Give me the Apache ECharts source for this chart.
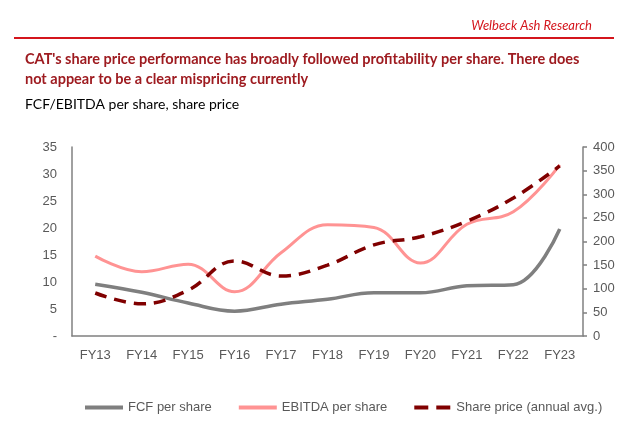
<!DOCTYPE html>
<html>
<head>
<meta charset="utf-8">
<script src="https://cdn.jsdelivr.net/npm/echarts@6/dist/echarts.min.js"></script>
<style>
html,body{margin:0;padding:0;background:#fff;}
#chart{width:640px;height:431px;}
</style>
</head>
<body>
<div id="chart"></div>
<script>
var categories = ['FY13','FY14','FY15','FY16','FY17','FY18','FY19','FY20','FY21','FY22','FY23'];
var fcfPerShare = [9.6, 8.1, 6.1, 4.6, 5.9, 6.8, 8.0, 8.0, 9.3, 9.5, 19.8];
var ebitdaPerShare = [14.8, 11.9, 13.3, 8.2, 15.4, 20.6, 20.1, 13.5, 20.7, 23.0, 31.7];
var sharePrice = [91, 68, 97, 159, 127, 150, 193, 210, 243, 292, 360];
var leftTicks = {min: 0, max: 35, interval: 5};
var rightTicks = {min: 0, max: 400, interval: 50};

var chart = echarts.init(document.getElementById('chart'), null, {renderer: 'canvas'});
var labelColor = '#595959';
var axisColor = '#808080';
chart.setOption({
  animation: false,
  backgroundColor: '#fff',
  title: [
    {text: 'Welbeck Ash Research', right: 43, top: 14,
     textStyle: {fontFamily: 'Lato', fontStyle: 'italic', fontWeight: 'normal', fontSize: 13, color: '#D4151C'}},
    {text: "CAT's share price performance has broadly followed profitability per share. There does\nnot appear to be a clear mispricing currently",
     left: 20, top: 44,
     textStyle: {fontFamily: 'Lato', fontWeight: 'bold', fontSize: 14.5, lineHeight: 20, color: '#9E1B20'}},
    {text: 'FCF/EBITDA per share, share price', left: 20, top: 92,
     textStyle: {fontFamily: 'Lato', fontWeight: 'normal', fontSize: 14, color: '#000'}}
  ],
  graphic: [
    {type: 'line', shape: {x1: 14, y1: 38, x2: 614, y2: 38}, style: {stroke: '#D4151C', lineWidth: 2}}
  ],
  legend: {
    bottom: 12, left: 80,
    itemWidth: 38, itemHeight: 4, itemGap: 27,
    textStyle: {fontFamily: 'Liberation Sans, Arial', fontSize: 13, color: labelColor},
    data: [
      {name: 'FCF per share', icon: 'rect'},
      {name: 'EBITDA per share', icon: 'rect'},
      {name: 'Share price (annual avg.)', icon: 'path://M0,0h14v4h-14z M22,0h14v4h-14z'}
    ]
  },
  grid: {left: 72, right: 57, top: 147, bottom: 95, containLabel: false},
  xAxis: {
    type: 'category', data: categories, boundaryGap: true,
    axisLine: {show: true, lineStyle: {color: axisColor, width: 1.5}},
    axisTick: {show: false},
    axisLabel: {color: labelColor, fontFamily: 'Liberation Sans, Arial', fontSize: 13, margin: 13}
  },
  yAxis: [
    {type: 'value', min: leftTicks.min, max: leftTicks.max, interval: leftTicks.interval, position: 'left',
     axisLine: {show: true, lineStyle: {color: axisColor, width: 1.5}},
     axisTick: {show: false}, splitLine: {show: false},
     axisLabel: {color: labelColor, fontFamily: 'Liberation Sans, Arial', fontSize: 13, margin: 15,
       formatter: function (v) { return v === 0 ? '-' : String(v); }}},
    {type: 'value', min: rightTicks.min, max: rightTicks.max, interval: rightTicks.interval, position: 'right',
     axisLine: {show: true, lineStyle: {color: axisColor, width: 1.5}},
     axisTick: {show: true, inside: false, length: 4, lineStyle: {color: axisColor, width: 1.5}},
     splitLine: {show: false},
     axisLabel: {color: labelColor, fontFamily: 'Liberation Sans, Arial', fontSize: 13, margin: 10}}
  ],
  series: [
    {name: 'FCF per share', type: 'line', data: fcfPerShare, yAxisIndex: 0, smooth: 0.4,
     symbol: 'none', lineStyle: {color: '#7F7F7F', width: 3.5}, itemStyle: {color: '#7F7F7F'}},
    {name: 'EBITDA per share', type: 'line', data: ebitdaPerShare, yAxisIndex: 0, smooth: 0.4,
     symbol: 'none', lineStyle: {color: '#FF9393', width: 3}, itemStyle: {color: '#FF9393'}},
    {name: 'Share price (annual avg.)', type: 'line', data: sharePrice, yAxisIndex: 1, smooth: 0.4,
     symbol: 'none', lineStyle: {color: '#800000', width: 3.5, type: [12, 8]}, itemStyle: {color: '#800000'}}
  ]
});
</script>
</body>
</html>
